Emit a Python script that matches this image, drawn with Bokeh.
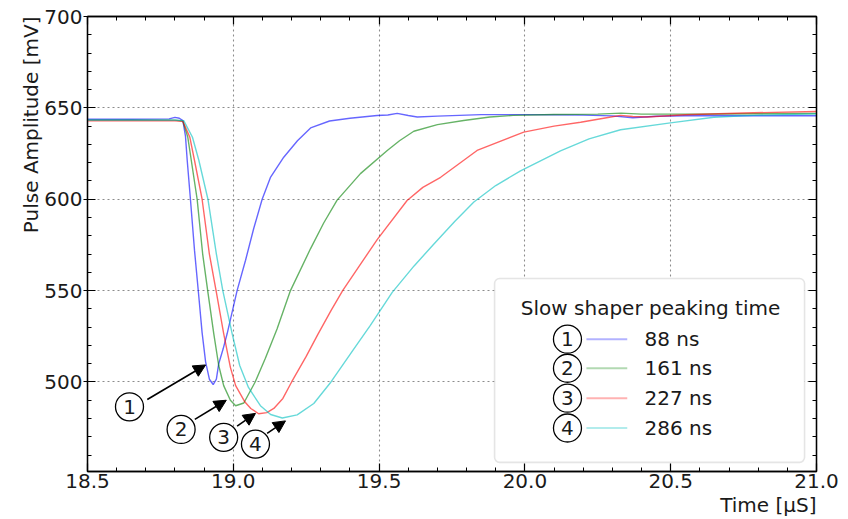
import math
from bokeh.plotting import figure
from bokeh.models import (FixedTicker, PrintfTickFormatter, CustomJSTickFormatter, LinearAxis,
                          Title, Arrow, NormalHead, BoxAnnotation)
from bokeh.core.properties import value
from bokeh.embed import file_html
from bokeh.resources import INLINE

FONT = "DejaVu Sans"

# ---------------- data ----------------
t88 = [18.50, 18.65, 18.78, 18.80, 18.815, 18.827, 18.836, 18.842, 18.853, 18.867, 18.881, 18.893,
       18.905, 18.918, 18.931, 18.942, 18.950, 18.965, 18.979, 19.013, 19.042, 19.070, 19.099, 19.128,
       19.173, 19.22, 19.265, 19.33, 19.40, 19.493, 19.53, 19.562, 19.60, 19.631, 19.70, 19.85, 20.00,
       20.20, 20.30, 20.37, 20.45, 20.60, 20.80, 21.00]
v88 = [643.8, 643.8, 644.0, 644.8, 644.3, 643.0, 634.5, 621.2, 600.0, 572.0, 548.0, 527.0,
       511.0, 501.5, 498.6, 501.5, 510.0, 518.0, 526.5, 550.0, 566.6, 584.0, 600.0, 612.1,
       623.0, 632.0, 639.0, 642.8, 644.3, 645.8, 646.1, 647.0, 645.8, 645.0, 645.5, 646.3, 646.3,
       646.0, 645.6, 644.6, 645.4, 645.8, 645.7, 645.7]

t161 = [18.50, 18.65, 18.80, 18.827, 18.844, 18.856, 18.876, 18.895, 18.913, 18.933, 18.950, 18.967,
        18.990, 19.008, 19.036, 19.075, 19.11, 19.15, 19.196, 19.265, 19.31, 19.356, 19.436, 19.528,
        19.57, 19.619, 19.70, 19.79, 19.88, 19.96, 20.10, 20.25, 20.33, 20.40, 20.60, 20.80, 21.00]
v161 = [643.3, 643.3, 643.3, 642.8, 633.9, 621.2, 600.0, 570.0, 549.0, 526.5, 509.0, 498.0,
        490.0, 487.0, 488.5, 500.0, 513.0, 529.0, 550.0, 573.0, 587.0, 599.5, 614.0, 626.7,
        632.0, 637.2, 640.8, 643.1, 645.0, 645.9, 646.4, 646.6, 647.1, 646.6, 646.6, 646.8, 646.9]

t227 = [18.50, 18.65, 18.80, 18.827, 18.851, 18.867, 18.893, 18.918, 18.942, 18.967, 18.990, 19.008,
        19.040, 19.060, 19.087, 19.115, 19.139, 19.17, 19.20, 19.25, 19.29, 19.335, 19.375, 19.43,
        19.494, 19.596, 19.65, 19.711, 19.836, 19.996, 20.10, 20.191, 20.28, 20.328, 20.37, 20.419,
        20.55, 20.75, 21.00]
v227 = [642.9, 642.9, 642.9, 642.6, 633.9, 621.2, 600.0, 570.0, 549.0, 526.5, 508.0, 498.0,
        489.0, 485.5, 482.6, 483.2, 485.5, 491.0, 500.0, 514.0, 526.0, 539.0, 550.0, 563.0,
        578.0, 599.3, 606.5, 612.0, 626.7, 636.7, 640.0, 642.1, 644.6, 645.9, 645.3, 645.0,
        646.2, 647.2, 648.0]

t286 = [18.50, 18.65, 18.80, 18.83, 18.860, 18.882, 18.913, 18.942, 18.964, 18.996, 19.022, 19.052,
        19.093, 19.128, 19.168, 19.219, 19.276, 19.335, 19.413, 19.470, 19.545, 19.62, 19.688,
        19.76, 19.825, 19.90, 19.985, 20.122, 20.22, 20.328, 20.499, 20.648, 20.80, 21.00]
v286 = [643.3, 643.3, 643.3, 643.0, 633.9, 621.2, 600.0, 570.0, 550.0, 526.5, 509.0, 497.0,
        487.0, 482.2, 480.3, 482.0, 488.2, 500.0, 518.0, 531.0, 549.0, 563.5, 575.5,
        588.0, 598.5, 607.5, 615.5, 626.5, 633.0, 638.0, 641.8, 644.9, 646.0, 646.7]

series_t = [t88, t161, t227, t286]
series_v = [v88, v161, v227, v286]
series_names = ["88 ns", "161 ns", "227 ns", "286 ns"]
series_marks = ["1", "2", "3", "4"]
series_colors = ["#0000ff", "#008000", "#ff0000", "#00bfbf"]

x_ticks = [18.5, 19.0, 19.5, 20.0, 20.5, 21.0]
x_minor = [18.6, 18.7, 18.8, 18.9, 19.1, 19.2, 19.3, 19.4, 19.6, 19.7, 19.8, 19.9,
           20.1, 20.2, 20.3, 20.4, 20.6, 20.7, 20.8, 20.9]
y_ticks = [500, 550, 600, 650, 700]
y_minor = [460, 470, 480, 490, 510, 520, 530, 540, 560, 570, 580, 590,
           610, 620, 630, 640, 660, 670, 680, 690]

legend_title = "Slow shaper peaking time"
x_label = "Time [\u03bcS]"
y_label = "Pulse Amplitude [mV]"

# annotation placement (circled numbers + arrows) in data coordinates
circ_x = [18.644, 18.821, 18.967, 19.076]
circ_y = [486.4, 474.0, 469.7, 466.0]
arr_x0 = [18.705, 18.868, 19.013, 19.116]
arr_y0 = [490.4, 479.5, 475.8, 471.9]
arr_x1 = [18.905, 18.976, 19.076, 19.179]
arr_y1 = [509.3, 490.0, 482.8, 478.7]

# ---------------- figure ----------------
p = figure(width=840, height=519, x_range=(18.5, 21.0), y_range=(451, 700),
           output_backend="svg", toolbar_location=None,
           min_border_left=87, min_border_right=24, min_border_top=16, min_border_bottom=48)
p.background_fill_color = "white"
p.border_fill_color = "white"
p.outline_line_color = "black"
p.outline_line_width = 1.3

xt = FixedTicker(ticks=x_ticks, minor_ticks=x_minor)
yt = FixedTicker(ticks=y_ticks, minor_ticks=y_minor)

xax = p.xaxis[0]
yax = p.yaxis[0]
xax.ticker = xt
xax.formatter = PrintfTickFormatter(format="%.1f")
yax.ticker = yt
yax.formatter = PrintfTickFormatter(format="%d")

def style_axis(ax, tick_out=0):
    ax.axis_line_color = "black"
    ax.axis_line_width = 1.3
    ax.major_tick_line_color = "black"
    ax.minor_tick_line_color = "black"
    ax.major_tick_line_width = 1.2
    ax.minor_tick_line_width = 1.0
    ax.major_tick_in = 8
    ax.major_tick_out = tick_out
    ax.minor_tick_in = 4
    ax.minor_tick_out = 0
    ax.major_label_text_font = FONT
    ax.major_label_text_font_size = "20px"
    ax.major_label_text_color = "#1a1a1a"

style_axis(xax)
xax.major_label_standoff = 2
style_axis(yax, tick_out=4)
yax.major_label_standoff = 1

# axis titles, aligned to the top / right end of the frame like the reference
p.add_layout(Title(text=y_label, align="right", text_font=FONT, text_font_size="20px",
                   text_font_style="normal", text_color="#1a1a1a", standoff=-3), "left")
p.add_layout(Title(text=x_label, align="right", text_font=FONT, text_font_size="20px",
                   text_font_style="normal", text_color="#1a1a1a", standoff=0), "below")

blank = CustomJSTickFormatter(code="return ''")
top_ax = LinearAxis(ticker=xt, formatter=blank, major_label_standoff=0)
right_ax = LinearAxis(ticker=yt, formatter=blank, major_label_standoff=0)
style_axis(top_ax)
style_axis(right_ax)
top_ax.major_label_text_font_size = "0px"
right_ax.major_label_text_font_size = "0px"
p.add_layout(top_ax, "above")
p.add_layout(right_ax, "right")

p.xgrid.ticker = xt
p.ygrid.ticker = yt
p.grid.grid_line_color = "#8c8c8c"
p.grid.grid_line_dash = "2 3"
p.grid.grid_line_width = 1.1

# legend box (under the glyphs, above the grid)
box = BoxAnnotation(left=19.896, right=20.959, bottom=456.0, top=556.6,
                    fill_color="white", fill_alpha=1.0, line_color="#a8a8a8",
                    line_width=1.6, border_radius=5, level="underlay")
p.add_layout(box)

# data curves
for t, v, c in zip(series_t, series_v, series_colors):
    p.line(t, v, line_color=c, line_width=1.4, line_alpha=0.6)

# arrows and circled numbers
for i in range(4):
    p.add_layout(Arrow(end=NormalHead(size=12, fill_color="black", line_color="black", line_width=1),
                       x_start=arr_x0[i], y_start=arr_y0[i], x_end=arr_x1[i], y_end=arr_y1[i],
                       line_color="black", line_width=1.6))

p.scatter(circ_x, circ_y, marker="circle", size=28, fill_color="white",
          line_color="black", line_width=1.3)
p.text(circ_x, circ_y, text=series_marks, text_align="center", text_baseline="middle",
       text_font=value(FONT), text_font_size="20px", text_color="#1a1a1a")

# legend content
leg_rows = [523.4, 507.5, 491.1, 474.8]
leg_circ_x = [20.146] * 4
p.text([20.431], [540.7], text=[legend_title], text_align="center", text_baseline="middle",
       text_font=value(FONT), text_font_size="20px", text_color="#1a1a1a")
p.scatter(leg_circ_x, leg_rows, marker="circle", size=28, fill_color="white",
          line_color="black", line_width=1.3)
p.text(leg_circ_x, leg_rows, text=series_marks, text_align="center", text_baseline="middle",
       text_font=value(FONT), text_font_size="20px", text_color="#1a1a1a")
p.segment(x0=[20.211] * 4, y0=leg_rows, x1=[20.351] * 4, y1=leg_rows,
          line_color=series_colors, line_width=2, line_alpha=0.3)
p.text([20.410] * 4, leg_rows, text=series_names, text_align="left", text_baseline="middle",
       text_font=value(FONT), text_font_size="20px", text_color="#1a1a1a")

open("out.html", "w").write(file_html(p, INLINE))
